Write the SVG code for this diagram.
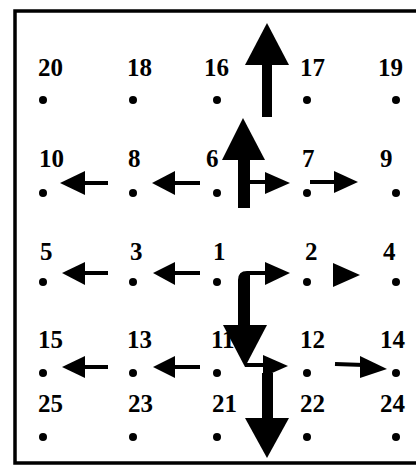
<svg xmlns="http://www.w3.org/2000/svg" width="416" height="475" viewBox="0 0 416 475">
<style>
.lbl{font-family:"Liberation Serif","Times New Roman",serif;font-weight:bold;font-size:25px;fill:#000}
.dot{fill:#000}
.shaft{stroke:#000;stroke-width:4;fill:none}
.head{fill:#000}
.thick{fill:#000}
</style>
<rect width="416" height="475" fill="#fff"/>
<path d="M420 11 H15 V463 H420" fill="none" stroke="#000" stroke-width="3.5"/>
<g id="nodes">
<g id="n20"><text class="lbl" x="38" y="76">20</text><circle class="dot" cx="43" cy="100" r="4"/></g>
<g id="n18"><text class="lbl" x="127" y="76">18</text><circle class="dot" cx="133" cy="100" r="4"/></g>
<g id="n16"><text class="lbl" x="204" y="76">16</text><circle class="dot" cx="217" cy="100" r="4"/></g>
<g id="n17"><text class="lbl" x="300" y="76">17</text><circle class="dot" cx="307" cy="100" r="4"/></g>
<g id="n19"><text class="lbl" x="378" y="76">19</text><circle class="dot" cx="396" cy="100" r="4"/></g>

<g id="n10"><text class="lbl" x="39" y="167">10</text><circle class="dot" cx="43" cy="193" r="4"/></g>
<g id="n8"><text class="lbl" x="128" y="167">8</text><circle class="dot" cx="133" cy="193" r="4"/></g>
<g id="n6"><text class="lbl" x="206" y="167">6</text><circle class="dot" cx="217" cy="193" r="4"/></g>
<g id="n7"><text class="lbl" x="302" y="167">7</text><circle class="dot" cx="307" cy="193" r="4"/></g>
<g id="n9"><text class="lbl" x="380" y="167">9</text><circle class="dot" cx="396" cy="193" r="4"/></g>

<g id="n5"><text class="lbl" x="40" y="260">5</text><circle class="dot" cx="43" cy="282" r="4"/></g>
<g id="n3"><text class="lbl" x="130" y="260">3</text><circle class="dot" cx="133" cy="282" r="4"/></g>
<g id="n1"><text class="lbl" x="213" y="260">1</text><circle class="dot" cx="217" cy="282" r="4"/></g>
<g id="n2"><text class="lbl" x="305" y="260">2</text><circle class="dot" cx="307" cy="282" r="4"/></g>
<g id="n4"><text class="lbl" x="383" y="260">4</text><circle class="dot" cx="396" cy="282" r="4"/></g>

<g id="n15"><text class="lbl" x="38" y="348">15</text><circle class="dot" cx="43" cy="373" r="4"/></g>
<g id="n13"><text class="lbl" x="127" y="348">13</text><circle class="dot" cx="133" cy="373" r="4"/></g>
<g id="n11"><text class="lbl" x="211" y="348">11</text><circle class="dot" cx="217" cy="373" r="4"/></g>
<g id="n12"><text class="lbl" x="300" y="348">12</text><circle class="dot" cx="307" cy="373" r="4"/></g>
<g id="n14"><text class="lbl" x="380" y="348">14</text><circle class="dot" cx="396" cy="373" r="4"/></g>

<g id="n25"><text class="lbl" x="38" y="412">25</text><circle class="dot" cx="43" cy="437" r="4"/></g>
<g id="n23"><text class="lbl" x="128" y="412">23</text><circle class="dot" cx="133" cy="437" r="4"/></g>
<g id="n21"><text class="lbl" x="212" y="412">21</text><circle class="dot" cx="217" cy="437" r="4"/></g>
<g id="n22"><text class="lbl" x="300" y="412">22</text><circle class="dot" cx="307" cy="437" r="4"/></g>
<g id="n24"><text class="lbl" x="380" y="412">24</text><circle class="dot" cx="396" cy="437" r="4"/></g>
</g>
<g id="connectors">
<rect class="thick" x="262" y="62" width="10" height="55"/>
<polygon class="head" points="267,23 289,65 245,65"/>
<rect class="thick" x="238" y="158" width="12" height="50"/>
<polygon class="head" points="243,118 265,160 222,160"/>
<line class="shaft" x1="82" y1="183" x2="108" y2="183"/>
<polygon class="head" points="60,183 85,171 85,195"/>
<line class="shaft" x1="172" y1="183" x2="200" y2="183"/>
<polygon class="head" points="152,183 175,171 175,195"/>
<line class="shaft" x1="248" y1="182" x2="268" y2="182" stroke-width="3"/>
<polygon class="head" points="290,183 265,172 265,194"/>
<line class="shaft" x1="310" y1="182" x2="337" y2="182" stroke-width="3"/>
<polygon class="head" points="358,182 334,171 334,193"/>
<line class="shaft" x1="82" y1="273" x2="108" y2="273"/>
<polygon class="head" points="62,273 85,262 85,285"/>
<line class="shaft" x1="172" y1="273" x2="200" y2="273"/>
<polygon class="head" points="153,273 175,262 175,285"/>
<path d="M238 327 V280 Q238 271 247 271 H268 V275 H250 V327 Z" class="thick"/>
<polygon class="head" points="290,273 265,262 265,285"/>
<polygon class="head" points="360,275 333,263 333,287"/>
<polygon class="head" points="245,367 267,325 223,325"/>
<line class="shaft" x1="245" y1="365" x2="266" y2="365" stroke-width="3"/>
<polygon class="head" points="288,366 263,355 263,377"/>
<line class="shaft" x1="82" y1="367" x2="108" y2="367"/>
<polygon class="head" points="62,367 85,356 85,378"/>
<line class="shaft" x1="172" y1="367" x2="200" y2="367"/>
<polygon class="head" points="153,367 175,356 175,378"/>
<line class="shaft" x1="335" y1="364" x2="364" y2="365"/>
<polygon class="head" points="387,369 360,356 360,378"/>
<rect class="thick" x="262" y="373" width="11" height="47"/>
<polygon class="head" points="267,458 289,418 245,418"/>
</g>
</svg>
